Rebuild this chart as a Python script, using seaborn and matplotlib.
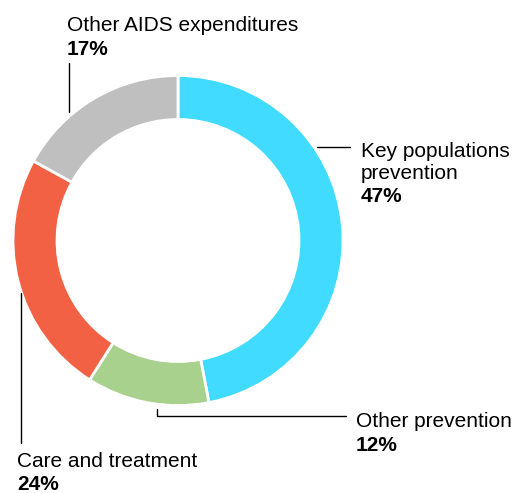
import matplotlib
matplotlib.use("Agg")
import matplotlib.pyplot as plt
import seaborn as sns

# spending shares (%), clockwise from 12 o'clock
categories = ["Key populations\nprevention", "Other prevention", "Care and treatment", "Other AIDS expenditures"]
shares = [47, 12, 24, 17]
colors = ["#40DBFF", "#A8D18D", "#F26143", "#BFBFBF"]

sns.set_style("white")
plt.rcParams["font.family"] = ["Liberation Sans", "DejaVu Sans"]

W, H = 515, 493
fig = plt.figure(figsize=(W / 100, H / 100), dpi=100)
ax = fig.add_axes([0, 0, 1, 1])

cx, cy, r = 178, H - 240.5, 165
ax.pie(shares, colors=colors, startangle=90, counterclock=False,
       center=(cx, cy), radius=r, frame=True,
       wedgeprops=dict(width=44, edgecolor="white", linewidth=2))
ax.set_xlim(0, W)
ax.set_ylim(0, H)
ax.set_aspect("equal")
ax.axis("off")

def y(p):
    # pixel row from top -> data y
    return H - p

# leader lines
lk = dict(color="black", lw=1)
ax.plot([317, 350], [y(147), y(147)], **lk)                    # key populations
ax.plot([157, 157, 346], [y(409), y(416), y(416)], **lk)       # other prevention
ax.plot([21, 21], [y(293), y(443)], **lk)                      # care and treatment
ax.plot([69, 69], [y(63), y(112)], **lk)                       # other AIDS

fs = 15
# x, baseline of (last) name line, baseline of percentage -- pixels from top
labels = [
    (361, 179, 202),
    (356, 427, 451),
    (17, 467, 490),
    (67, 31, 55),
]
for (x0, yb, yp), name, val in zip(labels, categories, shares):
    ax.text(x0, y(yb), name, fontsize=fs, ha="left", va="baseline",
            linespacing=1.2, color="black")
    ax.text(x0, y(yp), f"{val}%", fontsize=fs, fontweight="bold",
            ha="left", va="baseline", color="black")

fig.savefig("out.png", dpi=100)
